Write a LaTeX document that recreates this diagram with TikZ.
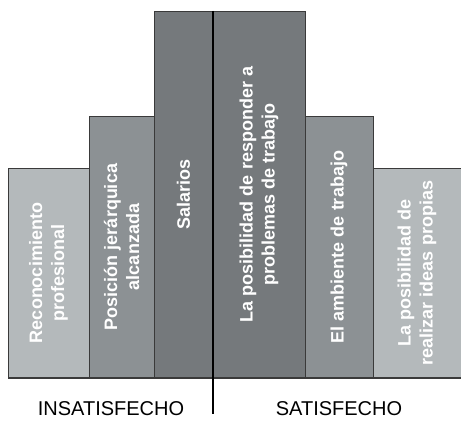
\documentclass[tikz,border=0pt]{standalone}
\usepackage{fontspec}
\setmainfont{Liberation Sans}
\usepackage{xcolor}

\definecolor{barlight}{HTML}{B4B9BB}
\definecolor{barmid}{HTML}{8C9194}
\definecolor{bardark}{HTML}{75797C}
\definecolor{barline}{HTML}{3A3A3A}

\begin{document}
\begin{tikzpicture}[x=1pt, y=-1pt, every node/.style={inner sep=0pt, outer sep=0pt},
    bartext/.style={rotate=90, text=white, align=center, font=\fontsize{18}{22}\selectfont\bfseries},
    sidetext/.style={font=\fontsize{20}{24}\selectfont}]
    \useasboundingbox (0,0) rectangle (461,422);

    \draw[fill=barlight, draw=barline] (8,168) rectangle (89,378);
    \draw[fill=barmid, draw=barline] (89,116) rectangle (154,378);
    \draw[fill=bardark, draw=barline] (154,11) rectangle (213,378);
    \draw[fill=bardark, draw=barline] (213,11) rectangle (305,378);
    \draw[fill=barmid, draw=barline] (305,116) rectangle (373,378);
    \draw[fill=barlight, draw=barline] (373,168) rectangle (461,378);

    \node[bartext] (reconocimiento) at (48.5,273) {Reconocimiento\\profesional};
    \node[bartext] (posicion) at (121.5,247) {Posición jerárquica\\alcanzada};
    \node[bartext] (salarios) at (183.5,194.5) {Salarios};
    \node[bartext] (responder) at (259,194.5) {La posibilidad de responder a\\problemas de trabajo};
    \node[bartext] (ambiente) at (339,247) {El ambiente de trabajo};
    \node[bartext] (ideas) at (417,273) {La posibilidad de\\realizar ideas propias};

    \draw[line width=1.5pt, barline] (8,378) -- (461,378);
    \draw[line width=2pt, black] (213,11) -- (213,414);

    \node[sidetext] (insatisfecho) at (111,408.5) {INSATISFECHO};
    \node[sidetext] (satisfecho) at (339,408.5) {SATISFECHO};
\end{tikzpicture}
\end{document}
